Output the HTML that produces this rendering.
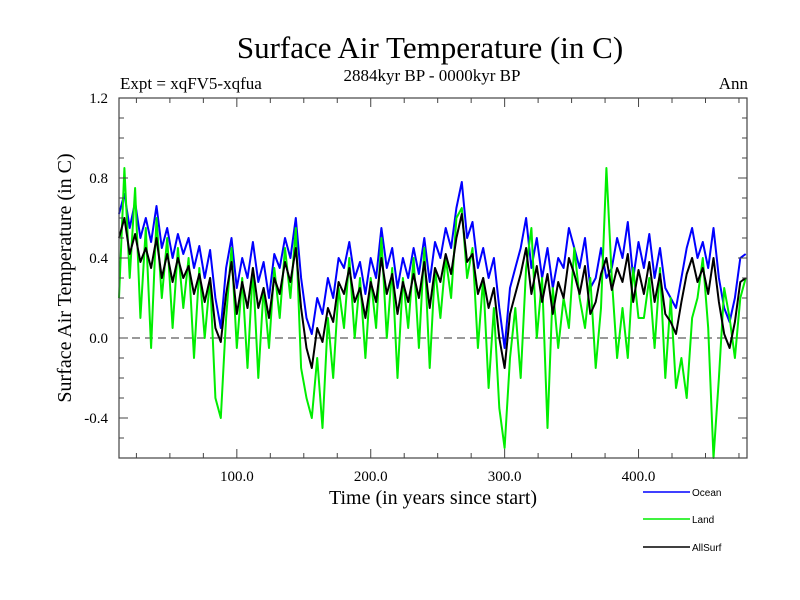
<!DOCTYPE html>
<html><head><meta charset="utf-8"><style>
body{margin:0;background:#fff;}
svg{display:block;font-family:"Liberation Serif",serif;}
</style></head><body>
<svg id="chart" width="800" height="600" viewBox="0 0 800 600">
<text x="430" y="58" font-size="31" text-anchor="middle">Surface Air Temperature (in C)</text>
<text x="432" y="81" font-size="17" text-anchor="middle">2884kyr BP - 0000kyr BP</text>
<text x="120" y="89" font-size="17">Expt = xqFV5-xqfua</text>
<text x="748" y="89" font-size="17" text-anchor="end">Ann</text>
<text transform="translate(71,278) rotate(-90)" font-size="20" text-anchor="middle">Surface Air Temperature (in C)</text>
<text x="433" y="504" font-size="20" text-anchor="middle">Time (in years since start)</text>
<g id="plot"></g>
<g id="axes"></g>
<g id="legend"></g>
</svg>
<script>
const yearStart = 12;
const yearEnd = 480;
const ocean = [.62,.72,.55,.68,.50,.60,.48,.66,.45,.55,
.40,.52,.42,.50,.35,.46,.30,.44,.20,.05,
.35,.50,.25,.40,.30,.48,.28,.38,.20,.42,
.35,.50,.40,.60,.30,.10,.02,.20,.12,.30,
.20,.40,.35,.48,.30,.38,.22,.40,.30,.55,
.35,.45,.25,.40,.30,.45,.32,.50,.28,.48,
.40,.55,.45,.65,.78,.50,.58,.35,.45,.30,
.40,.15,-.05,.25,.35,.45,.60,.35,.50,.30,
.45,.25,.40,.35,.55,.45,.35,.50,.25,.30,
.45,.30,.35,.50,.40,.58,.30,.48,.35,.52,
.30,.45,.25,.20,.15,.30,.45,.55,.40,.48,
.35,.55,.30,.15,.08,.20,.40,.42];
const land = [.20,.85,.30,.75,.10,.55,-.05,.60,.20,.50,
.05,.45,.15,.40,-.10,.35,.00,.30,-.30,-.40,
.10,.45,-.05,.30,-.15,.35,-.20,.25,-.05,.35,
.10,.45,.20,.55,-.15,-.30,-.40,-.10,-.45,.10,
-.20,.25,.05,.40,.00,.30,-.10,.30,.05,.50,
.00,.35,-.20,.30,.05,.40,-.05,.45,-.15,.35,
.10,.40,.20,.60,.65,.30,.45,-.05,.30,-.25,
.15,-.35,-.55,-.10,.15,-.20,.35,.55,.00,.30,
-.45,.25,-.05,.20,.05,.45,.20,.05,.30,-.15,
.15,.85,.30,-.10,.15,-.10,.35,.10,.10,.30,
-.05,.35,-.20,.20,-.25,-.10,-.30,.10,.20,.40,
.05,-.60,-.20,.25,.10,-.10,.20,.30];
const allSurf = [.50,.60,.42,.52,.38,.45,.35,.50,.30,.42,
.28,.40,.30,.36,.22,.32,.18,.30,.05,-.02,
.22,.38,.12,.28,.15,.35,.15,.25,.10,.30,
.22,.38,.28,.45,.15,-.05,-.15,.05,-.02,.15,
.08,.28,.22,.35,.18,.25,.10,.28,.18,.40,
.22,.32,.12,.28,.18,.32,.20,.38,.15,.35,
.28,.42,.32,.50,.62,.38,.42,.22,.30,.15,
.25,.00,-.15,.12,.22,.32,.45,.22,.36,.18,
.32,.12,.28,.20,.40,.32,.22,.36,.12,.18,
.32,.40,.24,.35,.28,.42,.18,.34,.22,.38,
.18,.32,.12,.08,.02,.18,.32,.40,.28,.35,
.22,.40,.18,.02,-.05,.08,.28,.30];
const xTickValues = [100,200,300,400];
const xTickLabels = ["100.0","200.0","300.0","400.0"];
const yTickValues = [1.2,0.8,0.4,0.0,-0.4];
const yTickLabels = ["1.2","0.8","0.4","0.0","-0.4"];
const seriesNames = ["Ocean","Land","AllSurf"];

const NS="http://www.w3.org/2000/svg";
const L=119,R=747,T=98,B=458;
const xMin=12,xMax=481,yMin=-0.6,yMax=1.2;
const xs=v=>L+(v-xMin)/(xMax-xMin)*(R-L);
const ys=v=>B-(v-yMin)/(yMax-yMin)*(B-T);
function mk(tag,attrs,parent){const e=document.createElementNS(NS,tag);for(const k in attrs)e.setAttribute(k,attrs[k]);parent.appendChild(e);return e;}
const plot=document.getElementById('plot'),axes=document.getElementById('axes'),legend=document.getElementById('legend');

const zl=mk('line',{x1:L,x2:R,y1:ys(0),y2:ys(0),stroke:'#333','stroke-width':1,'stroke-dasharray':'8,5'},plot);



const series=[[ocean,'#0000ff','ocean-line'],[land,'#00ee00','land-line'],[allSurf,'#000000','allsurf-line']];
series.forEach(([d,c,n])=>{
  const step=(yearEnd-yearStart)/(d.length-1);
  const pts=d.map((v,i)=>xs(yearStart+i*step).toFixed(1)+','+ys(v).toFixed(1)).join(' ');
  const p=mk('polyline',{points:pts,fill:'none',stroke:c,'stroke-width':2,'stroke-linejoin':'round'},plot);
  
  
});

const frame=mk('rect',{x:L,y:T,width:R-L,height:B-T,fill:'none',stroke:'#444','stroke-width':1.2},axes);


for(let v=25;v<xMax;v+=25){
  const len=(v%100===0)?9:5;
  mk('line',{x1:xs(v),x2:xs(v),y1:B,y2:B-len,stroke:'#444'},axes);
  mk('line',{x1:xs(v),x2:xs(v),y1:T,y2:T+len,stroke:'#444'},axes);
}
for(let k=-5;k<12;k++){
  const v=k/10;const len=(k%4===0)?9:5;
  mk('line',{x1:L,x2:L+len,y1:ys(v),y2:ys(v),stroke:'#444'},axes);
  mk('line',{x1:R,x2:R-len,y1:ys(v),y2:ys(v),stroke:'#444'},axes);
}
xTickValues.forEach((v,i)=>{
  const t=mk('text',{x:xs(v),y:481,'font-size':15,'text-anchor':'middle'},axes);
  t.textContent=xTickLabels[i];
  
  
});
yTickValues.forEach((v,i)=>{
  const t=mk('text',{x:108,y:ys(v)+5,'font-size':15,'text-anchor':'end'},axes);
  t.textContent=yTickLabels[i];
  
  
});
const legY=[492,519,547];
series.forEach(([d,c,n],i)=>{
  const g=mk('g',{},legend);
  
  
  mk('line',{x1:643,x2:690,y1:legY[i],y2:legY[i],stroke:c,'stroke-width':1.5},g);
  const t=mk('text',{x:692,y:legY[i]+4,'font-size':10,'font-family':'Liberation Sans, sans-serif'},g);
  t.textContent=seriesNames[i];
});
</script>
</body></html>
